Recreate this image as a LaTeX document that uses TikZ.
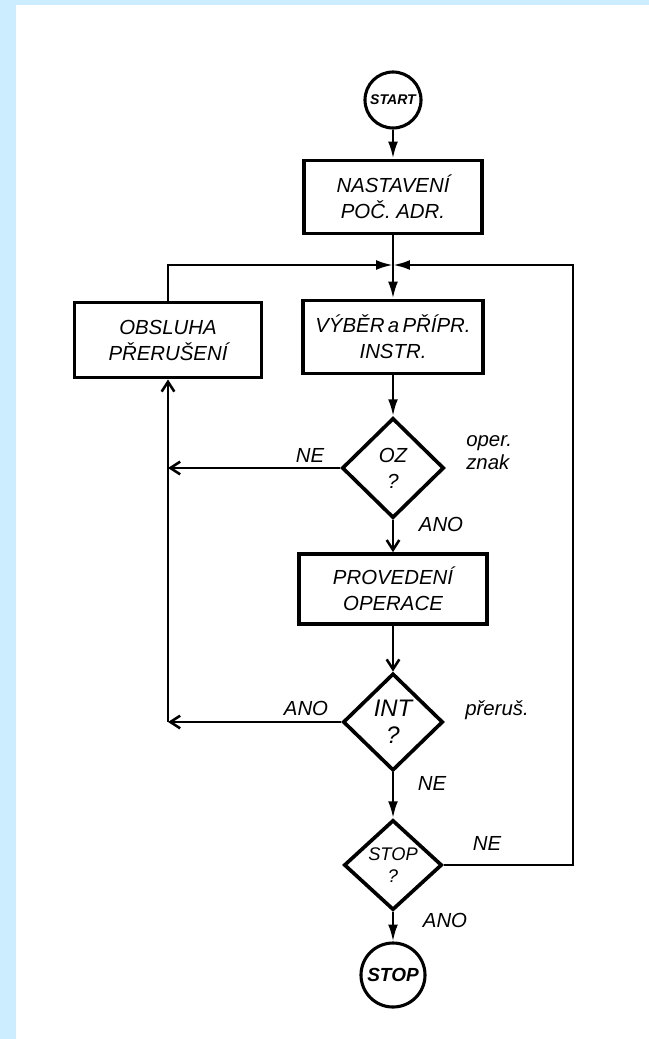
\documentclass[tikz,border=0pt]{standalone}
\usepackage{fontspec}
\setmainfont{Liberation Sans}
\usetikzlibrary{shapes.geometric, arrows.meta}
\definecolor{frameblue}{RGB}{204,236,255}

\begin{document}
\begin{tikzpicture}[
    x=0.025cm, y=-0.025cm,
    line width=1.8pt,
    every node/.style={font=\fontsize{14.5}{18.5}\selectfont\itshape, align=center},
    box/.style={draw, rectangle, line width=2.6pt, inner sep=2pt},
    term/.style={draw, circle, line width=2.2pt, inner sep=1pt},
    test/.style={draw, diamond, line width=2.6pt, inner sep=-3pt},
    lbl/.style={inner sep=0pt},
    fwd/.style={-{Latex[length=12pt, width=7pt]}},
    ret/.style={-{Straight Barb[length=7pt, width=9pt]}}
]
\fill[frameblue] (0,0) rectangle (649,1039);
\fill[white] (16,5) rectangle (649,1039);

\node[term, minimum size=1.4cm, font=\fontsize{10}{12}\selectfont\bfseries\itshape] (start) at (393,100) {START};
\node[box, minimum width=4.45cm, minimum height=1.83cm] (nast) at (393,197) {NASTAVENÍ\\POČ.\ ADR.};
\node[box, minimum width=4.5cm, minimum height=1.83cm] (vyber) at (393,337) {VÝBĚR\,a\,PŘÍPR.\\INSTR.};
\node[box, minimum width=4.68cm, minimum height=1.88cm] (obsl) at (168,340) {OBSLUHA\\PŘERUŠENÍ};
\node[test, minimum width=2.55cm, minimum height=2.5cm] (oz) at (393,468) {OZ\\?};
\node[box, minimum width=4.7cm, minimum height=1.75cm] (prov) at (393,589) {PROVEDENÍ\\OPERACE};
\node[test, minimum width=2.5cm, minimum height=2.43cm, font=\fontsize{17}{19}\selectfont\itshape] (int) at (393,722) {INT\\?};
\node[test, minimum width=2.45cm, minimum height=2.25cm, font=\fontsize{13}{16}\selectfont\itshape] (stopq) at (393,865) {STOP\\?};
\node[term, minimum size=1.6cm, font=\fontsize{13.5}{15}\selectfont\bfseries\itshape] (stop) at (393,975) {STOP};

\coordinate (jn) at (393,265);
\coordinate (rc) at (573,265);
\coordinate (lz) at (168,468);
\coordinate (la) at (168,722);

\node[lbl] (neoz) at (310,455) {NE};
\node[lbl, anchor=west, align=left, font=\fontsize{14.5}{16.5}\selectfont\itshape] (znak) at (465,453) {oper.\\znak};
\node[lbl] (anooz) at (441,524) {ANO};
\node[lbl] (anoint) at (306,708) {ANO};
\node[lbl] (prerus) at (497,710) {přeruš.};
\node[lbl] (neint) at (432,783) {NE};
\node[lbl] (nestop) at (487,843) {NE};
\node[lbl] (anostop) at (445,920) {ANO};

\draw[fwd] (start) -- (nast);
\draw[fwd] (nast) -- (vyber);
\draw[fwd] (obsl) |- (jn);
\draw[fwd] (stopq) -| (rc) -- (jn);
\draw[fwd] (vyber) -- (oz);
\draw[ret] (oz) -- (lz);
\draw[ret] (oz) -- (prov);
\draw[ret] (prov) -- (int);
\draw[ret] (int) -- (la);
\draw[ret] (la) -- (obsl);
\draw[fwd] (int) -- (stopq);
\draw[fwd] (stopq) -- (stop);
\end{tikzpicture}
\end{document}
